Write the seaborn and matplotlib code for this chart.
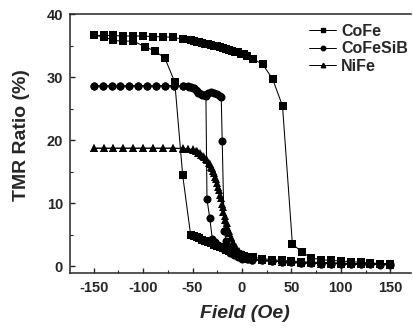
import numpy as np
import pandas as pd
import seaborn as sns
import matplotlib.pyplot as plt
from matplotlib.lines import Line2D
from matplotlib.ticker import MultipleLocator

# CoFe, field swept up from -150
cofe_up_x = [-150, -140, -130, -120, -110, -100, -90, -80, -70, -60, -52, -49, -46, -43, -40, -37, -34,
             -31, -28, -25, -22, -19, -16, -13, -10, -7, -4, -1, 2, 5, 11, 21, 31, 41, 51, 61, 70, 80,
             90, 100, 110, 120, 130, 140, 150]
cofe_up_y = [36.6, 36.6, 36.6, 36.5, 36.5, 36.5, 36.4, 36.4, 36.3, 36.0, 35.8, 35.7, 35.6, 35.5, 35.4,
             35.3, 35.2, 35.1, 35.0, 34.9, 34.7, 34.6, 34.5, 34.3, 34.2, 34.0, 33.9, 33.7, 33.6, 33.4,
             32.9, 32.0, 29.7, 25.4, 3.5, 2.2, 1.3, 1.0, 0.9, 0.8, 0.7, 0.6, 0.5, 0.4, 0.4]
# CoFe, field swept down from +150
cofe_dn_x = [150, 140, 130, 120, 110, 100, 90, 80, 70, 60, 50, 40, 30, 20, 11, 5, 2, -1, -4, -7, -10,
             -13, -16, -19, -22, -25, -28, -31, -34, -37, -40, -43, -46, -49, -52, -60, -68, -78, -88,
             -98, -110, -120, -130, -140, -150]
cofe_dn_y = [0.2, 0.3, 0.3, 0.4, 0.4, 0.5, 0.5, 0.6, 0.6, 0.7, 0.8, 0.9, 1.0, 1.2, 1.4, 1.5, 1.6, 1.7,
             1.9, 2.0, 2.2, 2.4, 2.6, 2.8, 3.0, 3.2, 3.4, 3.6, 3.8, 4.0, 4.2, 4.4, 4.6, 4.8, 5.0, 14.4,
             29.2, 33.0, 34.1, 34.8, 35.7, 35.7, 35.8, 36.4, 36.6]

# CoFeSiB
sib_up_x = [-150, -141, -132, -123, -114, -105, -96, -87, -78, -69, -60, -55, -52, -49, -46, -43, -40,
            -37, -34, -31, -28, -25, -22, -21, -20, -18, -16, -13, -10, -6, -2, 2, 6, 10, 20, 30, 40,
            50, 60, 70, 80, 90, 100, 110, 120, 130, 140, 150]
sib_up_y = [28.6, 28.6, 28.6, 28.6, 28.6, 28.6, 28.6, 28.6, 28.6, 28.6, 28.6, 28.5, 28.4, 28.2, 27.8,
            27.4, 27.2, 27.2, 27.4, 27.6, 27.5, 27.3, 27.0, 26.8, 19.9, 5.5, 4.0, 3.0, 2.4, 1.9, 1.6,
            1.3, 1.1, 1.0, 0.9, 0.8, 0.7, 0.6, 0.5, 0.5, 0.4, 0.4, 0.4, 0.3, 0.3, 0.3, 0.3, 0.3]
sib_dn_x = [150, 140, 130, 120, 110, 100, 90, 80, 70, 60, 50, 40, 30, 20, 10, 5, 0, -4, -8, -12, -16,
            -20, -24, -27, -30, -32.6, -35.4, -36.5, -38, -41, -44, -47, -50, -54, -60, -69, -78, -87,
            -96, -105, -114, -123, -132, -141, -150]
sib_dn_y = [0.2, 0.2, 0.3, 0.3, 0.3, 0.4, 0.4, 0.4, 0.5, 0.5, 0.6, 0.7, 0.8, 0.9, 1.0, 1.1, 1.2, 1.5,
            1.8, 2.1, 2.5, 2.9, 3.4, 3.8, 4.3, 7.6, 10.6, 27.0, 27.2, 27.3, 27.5, 27.9, 28.2, 28.4,
            28.6, 28.6, 28.6, 28.6, 28.6, 28.6, 28.6, 28.6, 28.6, 28.6, 28.6]

# NiFe
nife_up_x = [-150, -140, -130, -120, -110, -100, -90, -80, -70, -60, -55, -50, -47, -44, -41, -38, -35,
             -32, -30, -28, -26, -24, -22, -20, -19, -17, -15, -13, -11, -9, -7, -5, -3, -1, 2, 6, 10,
             20, 30, 40, 50, 60, 70, 80, 90, 100, 110, 120, 130, 140, 150]
nife_up_y = [18.7, 18.7, 18.7, 18.7, 18.7, 18.7, 18.7, 18.7, 18.7, 18.7, 18.6, 18.5, 18.3, 18.0, 17.7,
             17.3, 16.9, 16.2, 15.6, 14.8, 13.8, 12.6, 11.2, 9.8, 8.6, 7.3, 6.2, 5.2, 4.4, 3.7, 3.1,
             2.6, 2.2, 1.9, 1.6, 1.3, 1.1, 0.9, 0.8, 0.7, 0.6, 0.5, 0.5, 0.4, 0.4, 0.4, 0.3, 0.3, 0.3,
             0.3, 0.3]
nife_dn_x = [150, 140, 130, 120, 110, 100, 90, 80, 70, 60, 50, 40, 30, 20, 10, 5, 1, -3, -6, -9, -11,
             -13, -15, -17, -19, -21, -23, -25, -27, -29, -31, -33, -36, -39, -42, -46, -50, -55, -60,
             -70, -80, -90, -100, -110, -120, -130, -140, -150]
nife_dn_y = [0.3, 0.3, 0.3, 0.3, 0.3, 0.4, 0.4, 0.4, 0.5, 0.5, 0.6, 0.7, 0.8, 0.9, 1.2, 1.5, 1.9, 2.4,
             3.0, 3.8, 4.6, 5.6, 6.8, 8.0, 9.4, 10.8, 12.0, 13.2, 14.2, 15.1, 15.8, 16.4, 17.0, 17.5,
             17.9, 18.2, 18.4, 18.5, 18.6, 18.7, 18.7, 18.7, 18.7, 18.7, 18.7, 18.7, 18.7, 18.7]

rows = []
for name, br, xs, ys in [("CoFe", "up", cofe_up_x, cofe_up_y), ("CoFe", "dn", cofe_dn_x, cofe_dn_y),
                         ("CoFeSiB", "up", sib_up_x, sib_up_y), ("CoFeSiB", "dn", sib_dn_x, sib_dn_y),
                         ("NiFe", "up", nife_up_x, nife_up_y), ("NiFe", "dn", nife_dn_x, nife_dn_y)]:
    for x, y in zip(xs, ys):
        rows.append({"sample": name, "branch": br, "field": x, "tmr": y})
df = pd.DataFrame(rows)

sns.set_style("ticks")
plt.rcParams["font.family"] = ["Liberation Sans", "DejaVu Sans"]
plt.rcParams["font.weight"] = "bold"
plt.rcParams["axes.unicode_minus"] = False

fig = plt.figure(figsize=(4.14, 3.29), dpi=100)
ax = fig.add_axes([70 / 414, 1 - 273 / 329, 341 / 414, 259 / 329])

markers = {"CoFe": "s", "CoFeSiB": "o", "NiFe": "^"}
msizes = {"CoFe": 5.5, "CoFeSiB": 5.8, "NiFe": 5.5}
for name in ["NiFe", "CoFeSiB", "CoFe"]:
    sub = df[df["sample"] == name]
    sns.lineplot(data=sub, x="field", y="tmr", units="branch", estimator=None, sort=False,
                 marker=markers[name], markersize=msizes[name], markeredgewidth=0,
                 color="black", linewidth=0.75, ax=ax, legend=False)

ax.set_xlim(-174, 171)
ax.set_ylim(-1.1, 40)
ax.set_xticks([-150, -100, -50, 0, 50, 100, 150])
ax.set_yticks([0, 10, 20, 30, 40])
ax.xaxis.set_minor_locator(MultipleLocator(25))
ax.yaxis.set_minor_locator(MultipleLocator(5))
ax.tick_params(which="major", direction="in", length=3.5, width=1, labelsize=10.5)
ax.tick_params(axis="x", which="major", pad=6)
ax.tick_params(axis="y", which="major", pad=5)
ax.tick_params(which="minor", direction="in", length=2, width=0.8)
for lab in ax.get_xticklabels() + ax.get_yticklabels():
    lab.set_fontweight("bold")
for s in ["left", "bottom", "top"]:
    ax.spines[s].set_linewidth(1.1)
ax.spines["right"].set_visible(False)

ax.set_xlabel("")
ax.set_ylabel("")
fig.text(245 / 414, 1 - 313 / 329, "Field (Oe)", fontsize=14, fontweight="bold", style="italic",
         ha="center", va="center")
fig.text(22 / 414, 1 - 135 / 329, "TMR Ratio (%)", fontsize=14, fontweight="bold", rotation=90,
         ha="center", va="center")

handles = [Line2D([], [], color="black", lw=0.7, marker=markers[n], markersize=3.2) for n in ["CoFe", "CoFeSiB", "NiFe"]]
fig.legend(handles, ["CoFe", "CoFeSiB", "NiFe"], loc="upper left",
           bbox_to_anchor=(309 / 414, 1 - 24 / 329), borderpad=0, borderaxespad=0,
           frameon=False, prop={"weight": "bold", "size": 11.5}, handlelength=1.7,
           handletextpad=0.3, labelspacing=0.15)

fig.savefig("out.png", dpi=100)
